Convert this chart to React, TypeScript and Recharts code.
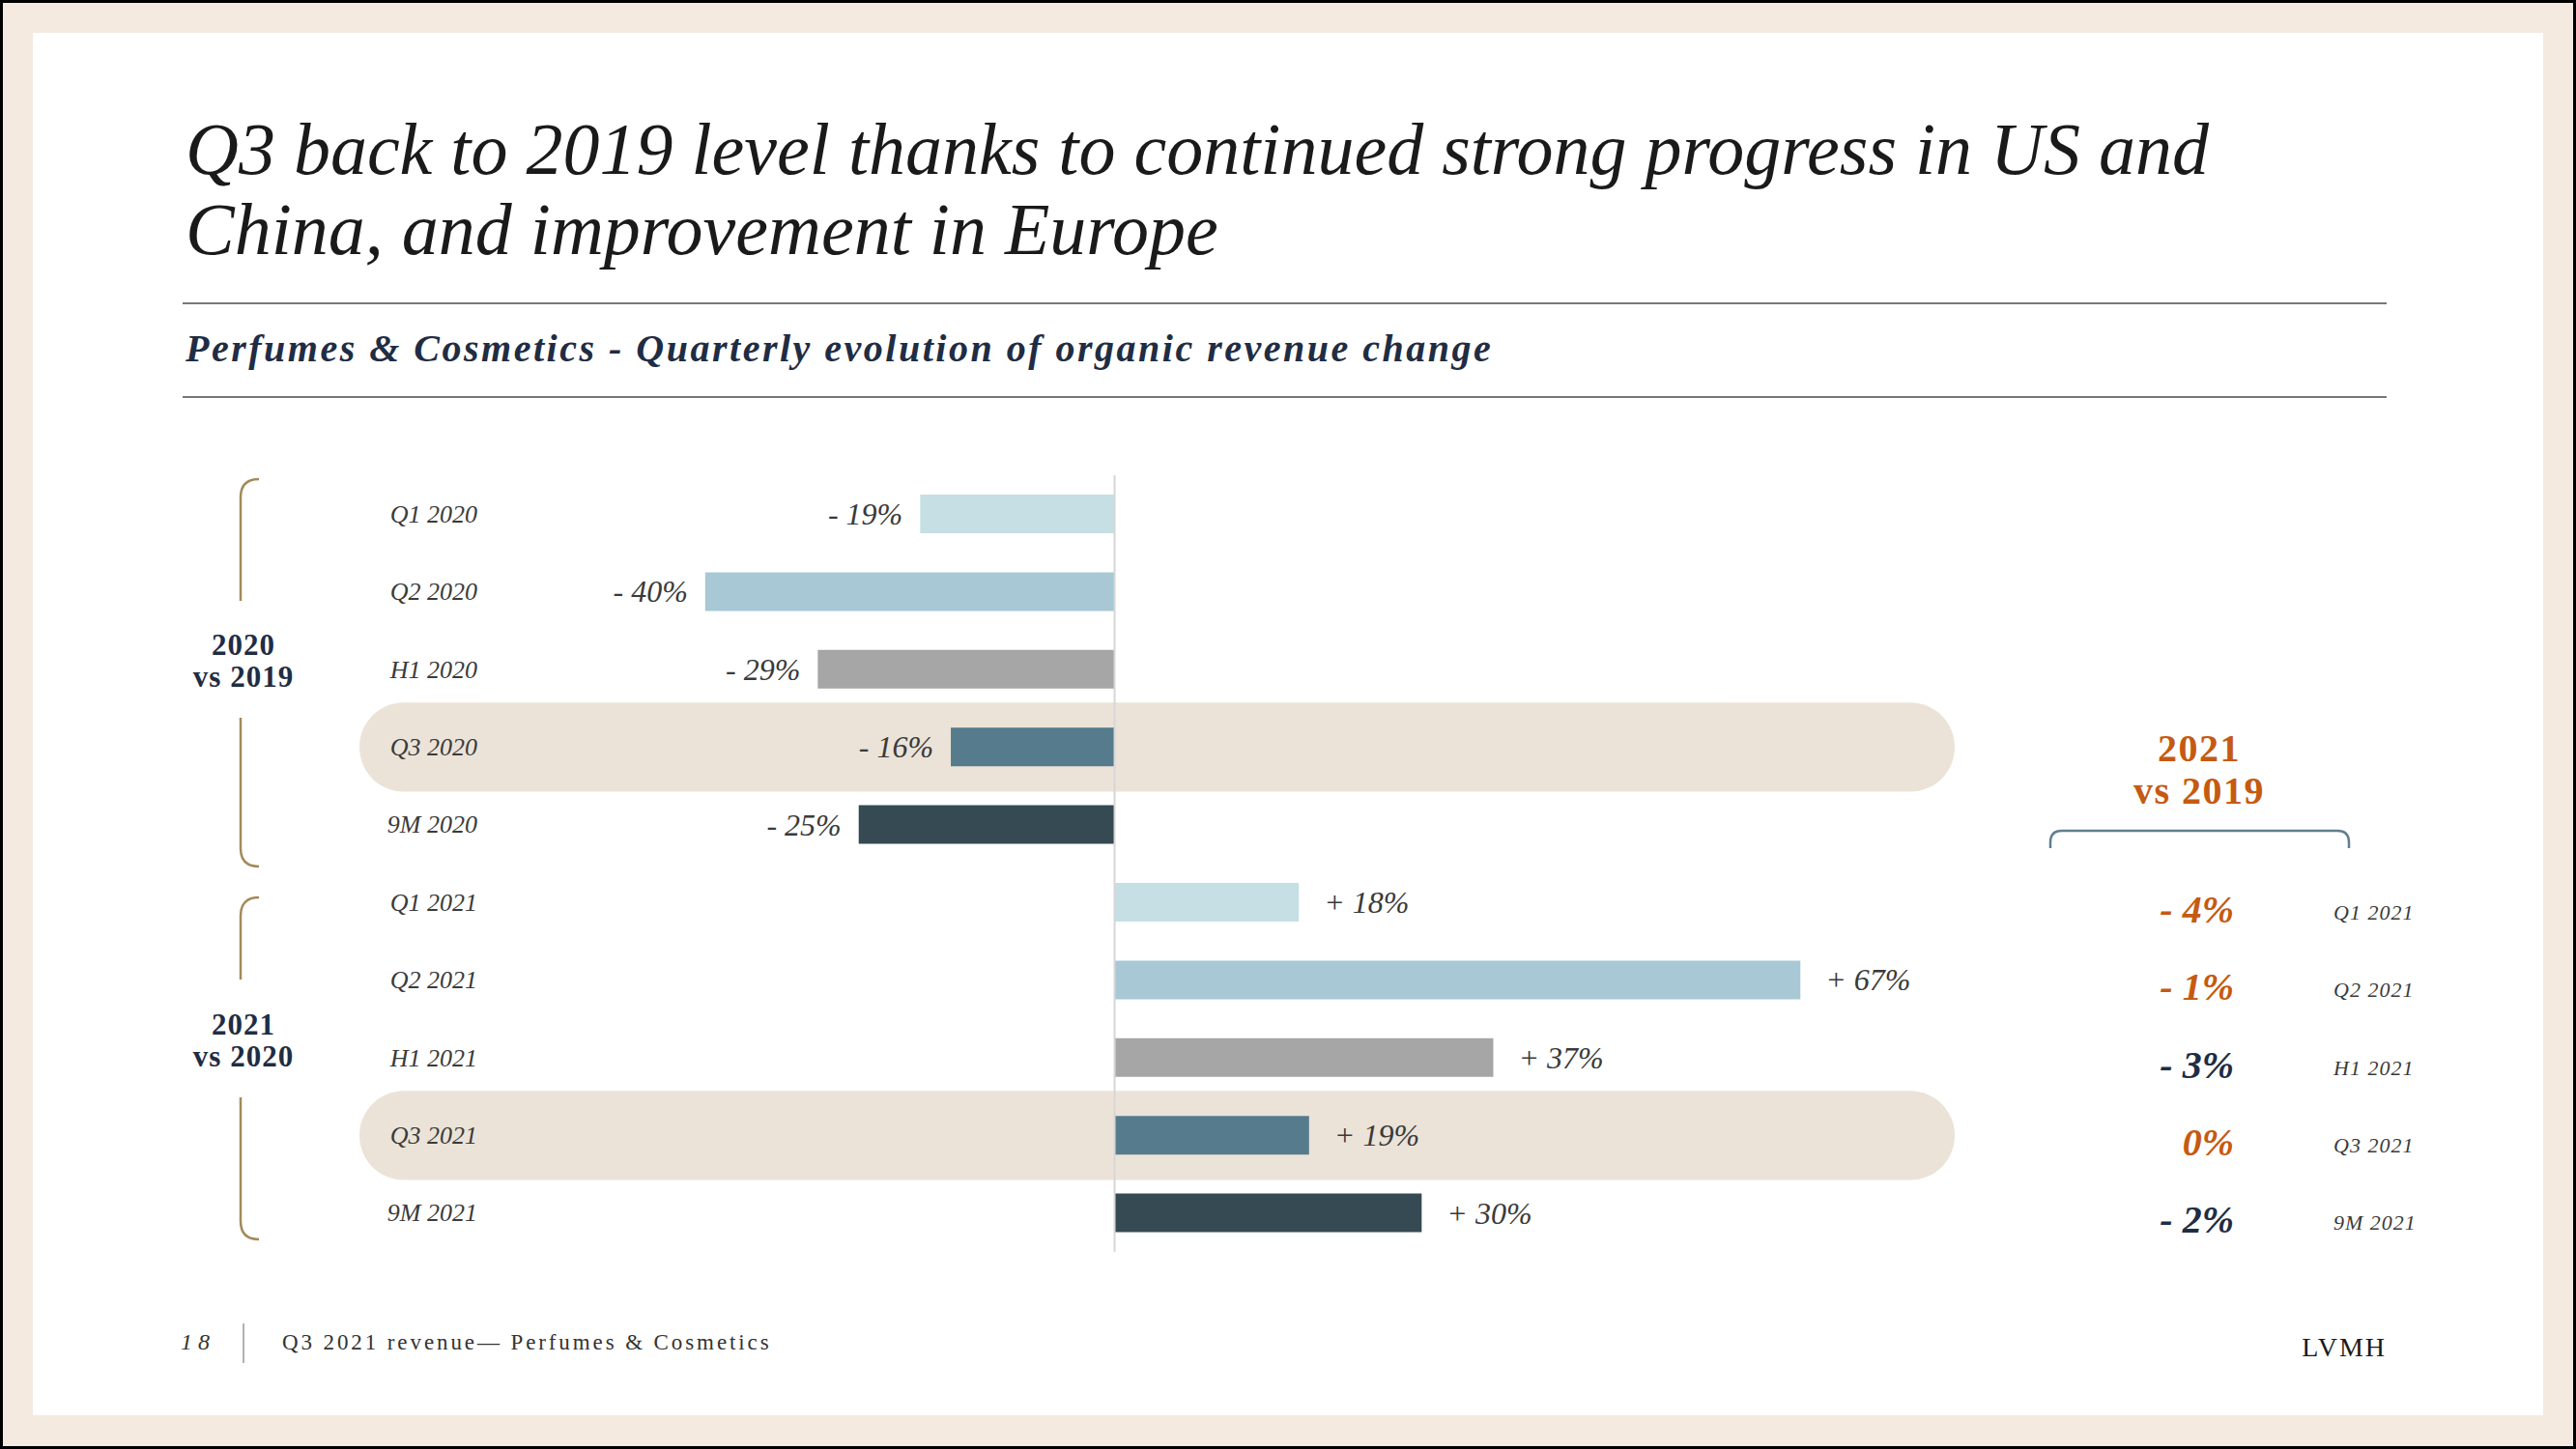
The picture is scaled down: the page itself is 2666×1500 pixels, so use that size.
import { BarChart, Bar, XAxis, YAxis, Cell, LabelList, ReferenceArea, ReferenceLine } from 'recharts';

const periods = ['Q1 2020', 'Q2 2020', 'H1 2020', 'Q3 2020', '9M 2020', 'Q1 2021', 'Q2 2021', 'H1 2021', 'Q3 2021', '9M 2021'];
const organicChange = [-19, -40, -29, -16, -25, 18, 67, 37, 19, 30];
const vs2019 = [null, null, null, null, null, -4, -1, -3, 0, -2];
const highlighted = ['Q3 2020', 'Q3 2021'];

const periodColors = {
  Q1: '#C5DFE4',
  Q2: '#A7C8D4',
  H1: '#A6A6A6',
  Q3: '#557B8D',
  '9M': '#354A53',
};

const rows = periods.map((p, i) => ({ period: p, change: organicChange[i], vs2019: vs2019[i] }));

const SERIF = '"Liberation Serif", "DejaVu Serif", serif';
const ORANGE = '#C55A11';
const NAVY = '#1F2D44';

const fmt = (v) => (v === 0 ? '0%' : v < 0 ? `- ${Math.abs(v)}%` : `+ ${v}%`);

const CategoryTick = ({ y, payload }) => (
  <text x={494} y={y} textAnchor="end" dominantBaseline="central" fontFamily={SERIF} fontStyle="italic" fontSize={26} fill="#3A3A3A">
    {payload.value}
  </text>
);

// 2021 vs 2019 column, lined up with the 2021 rows
const RightTick = ({ y, payload }) => {
  const i = periods.indexOf(payload.value);
  const v = vs2019[i];
  if (v === null || v === undefined) return <g />;
  const color = payload.value.startsWith('Q') ? ORANGE : NAVY;
  return (
    <g>
      <text x={2312} y={y + 7} textAnchor="end" dominantBaseline="central" fontFamily={SERIF} fontStyle="italic" fontWeight="bold" fontSize={40} fill={color}>
        {fmt(v)}
      </text>
      <text x={2415} y={y + 10} dominantBaseline="central" fontFamily={SERIF} fontStyle="italic" fontSize={22} letterSpacing={1} fill="#3A3A3A">
        {payload.value}
      </text>
    </g>
  );
};

const BarValue = (props) => {
  const vb = props.viewBox || props;
  const { x, y, width, height } = vb;
  const v = props.value;
  const left = Math.min(x, x + width);
  const right = Math.max(x, x + width);
  const cy = y + height / 2;
  return (
    <text
      x={v < 0 ? left - 18 : right + 26}
      y={cy}
      textAnchor={v < 0 ? 'end' : 'start'}
      dominantBaseline="central"
      fontFamily={SERIF}
      fontStyle="italic"
      fontSize={32}
      fill="#3A3A3A"
    >
      {fmt(v)}
    </text>
  );
};

const Pill = (props) => (
  <rect x={props.x} y={props.y - 6} width={props.width} height={props.height + 12} rx={46} ry={46} fill="#EBE3D8" />
);

const bracketColor = '#A38A5A';

const App = () => {
  return (
    <div style={{ position: 'absolute', left: 0, top: 0, width: 2666, height: 1500, background: '#F4EADF', border: '3px solid #000', boxSizing: 'border-box' }}>
      <div style={{ position: 'absolute', left: 31, top: 31, width: 2598, height: 1431, background: '#FFFFFF' }} />
      <svg width={2666} height={1500} style={{ position: 'absolute', left: -3, top: -3 }}>
        <text x={192} y={180} fontFamily={SERIF} fontStyle="italic" fontSize={76} fill="#1A1A1A">
          Q3 back to 2019 level thanks to continued strong progress in US and
        </text>
        <text x={192} y={263} fontFamily={SERIF} fontStyle="italic" fontSize={76} fill="#1A1A1A">
          China, and improvement in Europe
        </text>
        <line x1={189} x2={2470} y1={314} y2={314} stroke="#4A4A4A" strokeWidth={1.5} />
        <text x={192} y={374} fontFamily={SERIF} fontStyle="italic" fontWeight="bold" fontSize={40} letterSpacing={2.5} fill={NAVY}>
          Perfumes &amp; Cosmetics - Quarterly evolution of organic revenue change
        </text>
        <line x1={189} x2={2470} y1={411} y2={411} stroke="#4A4A4A" strokeWidth={1.5} />

        <path d="M 268 496 Q 249 496 249 515 L 249 622" fill="none" stroke={bracketColor} strokeWidth={2.5} />
        <path d="M 249 743 L 249 878 Q 249 897 268 897" fill="none" stroke={bracketColor} strokeWidth={2.5} />
        <path d="M 268 929 Q 249 929 249 948 L 249 1014" fill="none" stroke={bracketColor} strokeWidth={2.5} />
        <path d="M 249 1136 L 249 1264 Q 249 1283 268 1283" fill="none" stroke={bracketColor} strokeWidth={2.5} />
        <text x={252} y={667} textAnchor="middle" dominantBaseline="central" fontFamily={SERIF} fontWeight="bold" fontSize={31} letterSpacing={1} fill={NAVY}>2020</text>
        <text x={252} y={700} textAnchor="middle" dominantBaseline="central" fontFamily={SERIF} fontWeight="bold" fontSize={31} letterSpacing={1} fill={NAVY}>vs 2019</text>
        <text x={252} y={1060} textAnchor="middle" dominantBaseline="central" fontFamily={SERIF} fontWeight="bold" fontSize={31} letterSpacing={1} fill={NAVY}>2021</text>
        <text x={252} y={1093} textAnchor="middle" dominantBaseline="central" fontFamily={SERIF} fontWeight="bold" fontSize={31} letterSpacing={1} fill={NAVY}>vs 2020</text>

        <text x={2276} y={774} textAnchor="middle" dominantBaseline="central" fontFamily={SERIF} fontWeight="bold" fontSize={40} letterSpacing={1.5} fill={ORANGE}>2021</text>
        <text x={2276} y={818} textAnchor="middle" dominantBaseline="central" fontFamily={SERIF} fontWeight="bold" fontSize={40} letterSpacing={1.5} fill={ORANGE}>vs 2019</text>
        <path d="M 2122 878 L 2122 872 Q 2122 860 2134 860 L 2419 860 Q 2431 860 2431 872 L 2431 878" fill="none" stroke="#5F7F90" strokeWidth={2.5} />

        <text x={187} y={1397} fontFamily={SERIF} fontStyle="italic" fontSize={24} letterSpacing={6} fill="#333">18</text>
        <line x1={252} x2={252} y1={1370} y2={1411} stroke="#999" strokeWidth={1.5} />
        <text x={292} y={1397} fontFamily={SERIF} fontSize={23} letterSpacing={2.9} fill="#333">Q3 2021 revenue— Perfumes &amp; Cosmetics</text>
        <text x={2470} y={1404} textAnchor="end" fontFamily={SERIF} fontSize={28} letterSpacing={2} fill="#1A1A1A">LVMH</text>
      </svg>
      <div style={{ position: 'absolute', left: -3, top: -3 }}>
        <BarChart width={2666} height={1500} layout="vertical" data={rows} margin={{ top: 492, bottom: 204, left: 0, right: 0 }} barSize={40}>
          <XAxis type="number" domain={[-73.78, 82.08]} hide />
          <YAxis yAxisId="left" type="category" dataKey="period" width={372} axisLine={false} tickLine={false} interval={0} tick={<CategoryTick />} />
          <YAxis yAxisId="right" orientation="right" type="category" dataKey="period" width={643} axisLine={false} tickLine={false} interval={0} tick={<RightTick />} />
          {highlighted.map((p) => (
            <ReferenceArea key={p} yAxisId="left" y1={p} y2={p} shape={<Pill />} />
          ))}
          <ReferenceLine yAxisId="left" x={0} stroke="#D6D6D6" strokeWidth={2} />
          <Bar yAxisId="left" dataKey="change" isAnimationActive={false}>
            {rows.map((r) => (
              <Cell key={r.period} fill={periodColors[r.period.split(' ')[0]]} />
            ))}
            <LabelList dataKey="change" content={<BarValue />} />
          </Bar>
        </BarChart>
      </div>
    </div>
  );
};

export default App;
